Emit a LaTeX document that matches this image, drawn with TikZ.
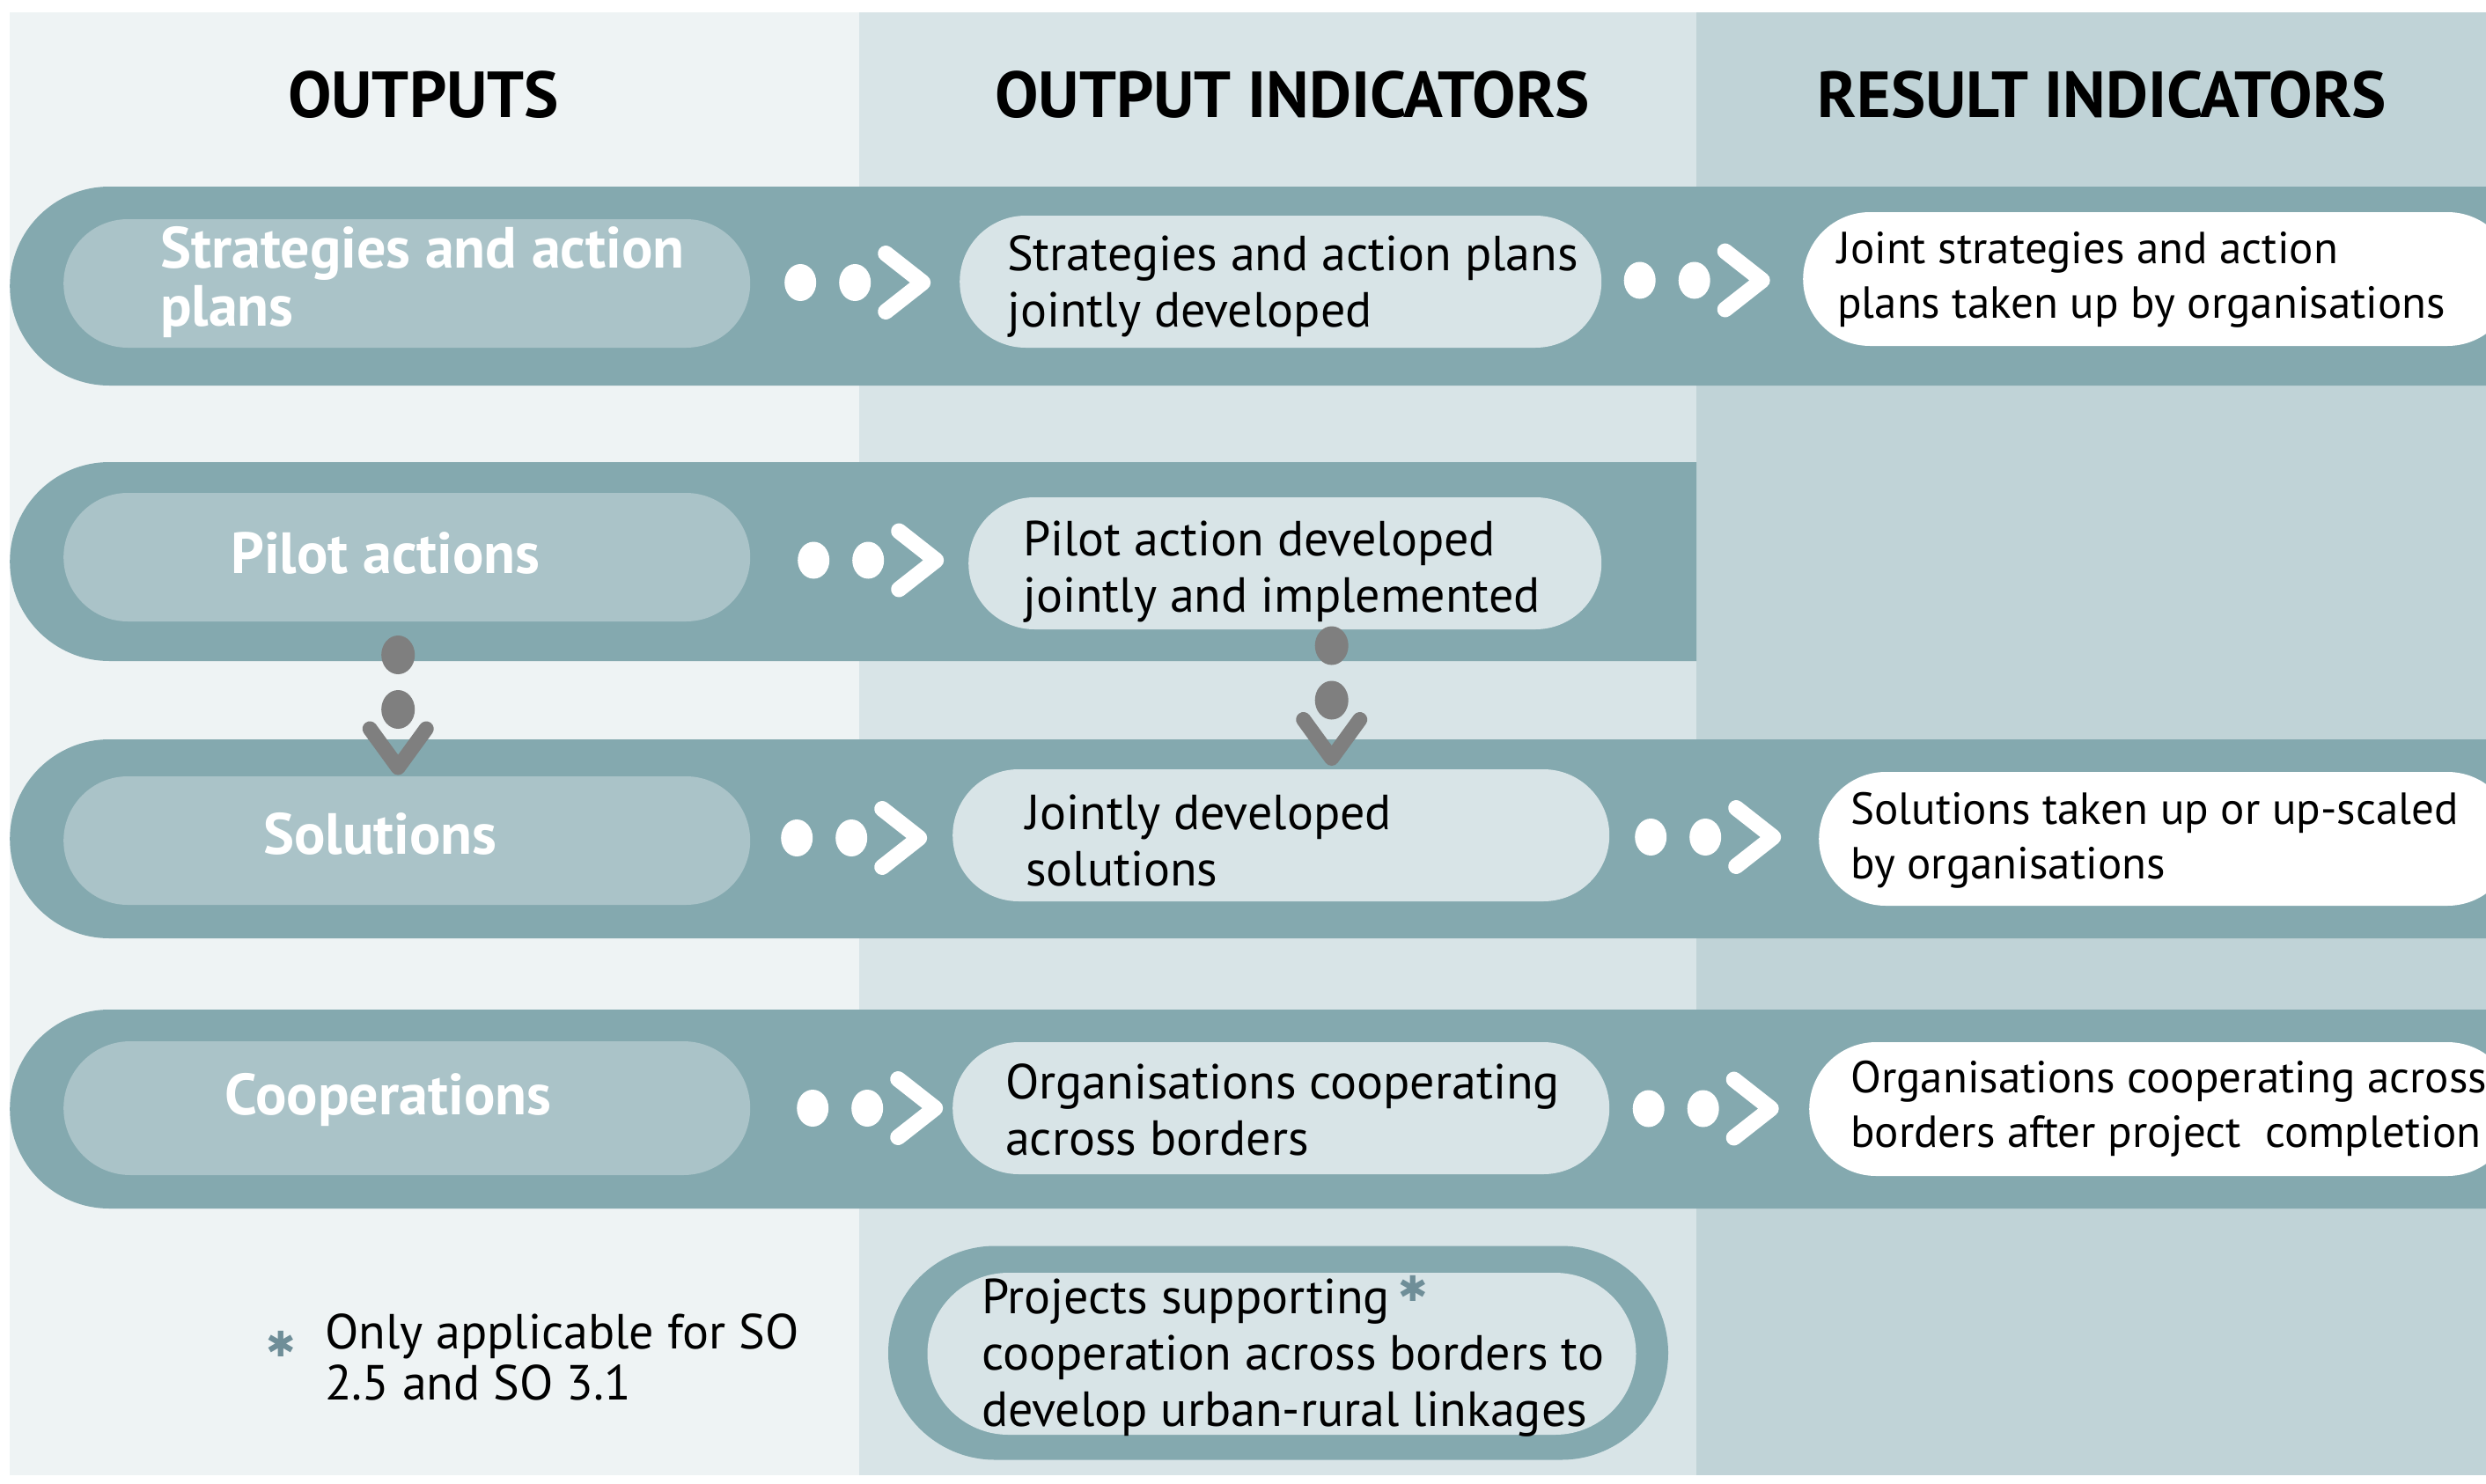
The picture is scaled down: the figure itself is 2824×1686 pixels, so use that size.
\documentclass[tikz,border=0pt]{standalone}
\usepackage{fontspec}
\setmainfont{PT Sans}
\newfontfamily\dejavu{DejaVu Sans}
\usetikzlibrary{shapes.misc,calc}
\definecolor{colA}{HTML}{EEF3F4}
\definecolor{colB}{HTML}{D8E4E7}
\definecolor{colC}{HTML}{C0D3D7}
\definecolor{bandc}{HTML}{84A9AF}
\definecolor{pillAc}{HTML}{AAC3C8}
\definecolor{connc}{HTML}{7F7F7F}
\definecolor{starc}{HTML}{6F8E98}
\tikzset{
  bandbox/.style={rounded rectangle, rounded rectangle right arc=none, fill=bandc, draw=none, inner sep=0, anchor=west, minimum height=226},
  pillbox/.style={rounded rectangle, draw=none, inner sep=0, anchor=west, minimum height=#1},
  outpill/.style={pillbox=146, fill=pillAc},
  indpill/.style={pillbox=150, fill=colB},
  respill/.style={pillbox=152, fill=white},
  headtxt/.style={font=\bfseries\fontsize{74}{84}\selectfont, inner sep=0},
  outtxt/.style={font=\bfseries\fontsize{66}{66}\selectfont, text=white, align=left, inner sep=0},
  indtxt/.style={font=\fontsize{56}{64}\selectfont, align=left, anchor=west, inner sep=0},
  restxt/.style={font=\fontsize{51}{62}\selectfont, align=left, anchor=west, inner sep=0},
  wdot/.style={fill=white},
  gdot/.style={fill=connc},
}
% horizontal flow connector: dots + chevron between two nodes (#3 = shift)
\newcommand\flowarr[3]{%
  \path (#1.east) -- (#2.west) coordinate[midway] (fm0);
  \path ($(fm0)+(#3,0)$) coordinate (fm);
  \fill[wdot] ($(fm)+(-62,0)$) ellipse[x radius=18, y radius=21];
  \fill[wdot] (fm) ellipse[x radius=18, y radius=21];
  \draw[white, line width=18, line cap=round, line join=round]
    ($(fm)+(35,-33)$) -- ($(fm)+(77,0)$) -- ($(fm)+(35,33)$);
}
% vertical flow connector: #1 from, #2 to, #3 x offset from #1 centre, #4 y offset of 2nd dot from midpoint
\newcommand\downarr[4]{%
  \path ($(#1.south)+(#3,0)$) coordinate (da);
  \path (da) -- (da |- #2.north) coordinate[midway] (dm);
  \path ($(dm)+(0,#4)$) coordinate (dd);
  \fill[gdot] ($(dd)+(0,-62)$) ellipse[x radius=19, y radius=22];
  \fill[gdot] (dd) ellipse[x radius=19, y radius=22];
  \draw[connc, line width=17, line cap=round, line join=round]
    ($(dd)+(-32,22)$) -- ($(dd)+(0,66)$) -- ($(dd)+(32,22)$);
}
\begin{document}
\begin{tikzpicture}[x=1pt,y=-1pt]
\useasboundingbox (0,0) rectangle (2824,1686);
\clip (0,0) rectangle (2824,1686);
\fill[white] (0,0) rectangle (2824,1686);
% columns
\fill[colA] (11,14) rectangle (976,1676);
\fill[colB] (976,14) rectangle (1927,1676);
\fill[colC] (1927,14) rectangle (2824,1676);
% headers
\node[headtxt] (h1) at (481,108) {OUTPUTS};
\node[headtxt] (h2) at (1468,108) {OUTPUT INDICATORS};
\node[headtxt] (h3) at (2388,108) {RESULT INDICATORS};
% bands
\node[bandbox, minimum width=2900] (b1) at (11,325) {};
\node[bandbox, minimum width=1916] (b2) at (11,638) {};
\node[bandbox, minimum width=2900] (b3) at (11,953) {};
\node[bandbox, minimum width=2900] (b4) at (11,1260) {};
% output pills
\node[outpill, minimum width=780] (p11) at (72,322) {};
\node[outpill, minimum width=780] (p21) at (72,633) {};
\node[outpill, minimum width=780] (p31) at (72,955) {};
\node[outpill, minimum width=780, minimum height=152] (p41) at (72,1259) {};
% output indicator pills
\node[indpill, minimum width=729] (p12) at (1090,320) {};
\node[indpill, minimum width=719] (p22) at (1100,640) {};
\node[indpill, minimum width=746] (p32) at (1082,949) {};
\node[indpill, minimum width=746] (p42) at (1082,1259) {};
% result indicator pills
\node[respill, minimum width=808] (p13) at (2048,317) {};
\node[respill, minimum width=790] (p33) at (2066,953) {};
\node[respill, minimum width=801] (p43) at (2055,1260) {};
% bottom pill
\node[rounded rectangle, fill=bandc, inner sep=0, minimum width=886, minimum height=243] (q0) at (1452,1537) {};
\node[rounded rectangle, fill=colB, inner sep=0, minimum width=805, minimum height=184] (q1) at (1456,1538) {};
% texts
\node[outtxt, anchor=west] (t11) at (182,321) {Strategies and action\\plans};
\node[outtxt] (t21) at (438,628) {Pilot actions};
\node[outtxt] (t31) at (432,947) {Solutions};
\node[outtxt] (t41) at (441,1250) {Cooperations};
\node[indtxt] (t12) at (1144,325) {Strategies and action plans\\jointly developed};
\node[indtxt] (t22) at (1162,650) {Pilot action developed\\jointly and implemented};
\node[indtxt] (t32) at (1165,955) {Jointly developed\\solutions};
\node[indtxt] (t42) at (1142,1261) {Organisations cooperating\\across borders};
\node[restxt] (t13) at (2087,318) {Joint strategies and action\\plans taken up by organisations};
\node[restxt] (t33) at (2102,955) {Solutions taken up or up-scaled\\by organisations};
\node[restxt] (t43) at (2102,1260) {Organisations cooperating across\\borders after project\ \ completion};
\node[indtxt] (tq) at (1115,1541) {Projects supporting\,{\textcolor{starc}{\raisebox{0.25em}{\dejavu\bfseries\fontsize{40}{40}\selectfont ✱}}}\\cooperation across borders to\\develop urban-rural linkages};
\node[inner sep=0, text=starc, font=\dejavu\bfseries\fontsize{40}{40}\selectfont] (fs) at (319,1527) {✱};
\node[indtxt, font=\fontsize{56}{58}\selectfont] (fn) at (369,1542) {Only applicable for SO\\2.5 and SO 3.1};
% flow connectors
\flowarr{p11}{p12}{0}
\flowarr{p12}{p13}{-9}
\flowarr{p21}{p22}{10}
\flowarr{p31}{p32}{0}
\flowarr{p32}{p33}{-10}
\flowarr{p41}{p42}{18}
\flowarr{p42}{p43}{-7}
\downarr{p21}{p31}{-10}{12}
\downarr{p22}{p32}{53}{1}
\end{tikzpicture}
\end{document}
